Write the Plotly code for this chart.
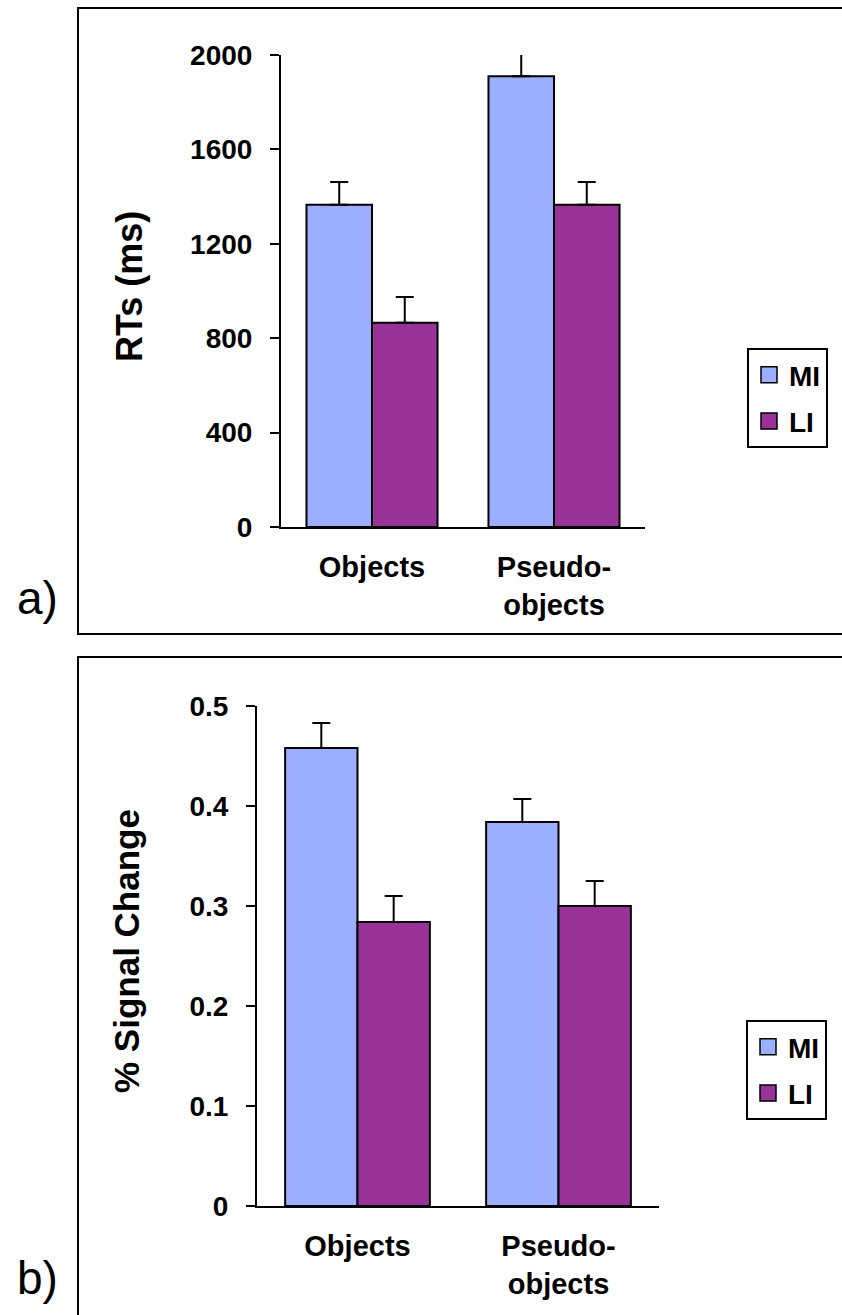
import plotly.graph_objects as go

W, H = 842, 1315

# ---- data ----
categories = ["Objects", "Pseudo-<br>objects"]
series_names = ["MI", "LI"]
rt_mi = [1365, 1910]
rt_mi_err = [97, 97]
rt_li = [865, 1365]
rt_li_err = [110, 97]
sig_mi = [0.458, 0.384]
sig_mi_err = [0.025, 0.023]
sig_li = [0.284, 0.300]
sig_li_err = [0.026, 0.025]
rt_ticks = [0, 400, 800, 1200, 1600, 2000]
sig_ticks = [0, 0.1, 0.2, 0.3, 0.4, 0.5]
sig_ticktext = ["0", "0.1", "0.2", "0.3", "0.4", "0.5"]

MI_COLOR = "#9BAEFF"
LI_COLOR = "#993399"
FONT = "Liberation Sans, Arial, sans-serif"


def px_x(p):
    return p / W


def px_y(p):
    return 1 - p / H


fig = go.Figure()

panels = [
    ("x", "y", "legend", rt_mi, rt_mi_err, rt_li, rt_li_err),
    ("x2", "y2", "legend2", sig_mi, sig_mi_err, sig_li, sig_li_err),
]
for xa, ya, lg, mi, mi_e, li, li_e in panels:
    for name, vals, errs, col in [("MI", mi, mi_e, MI_COLOR), ("LI", li, li_e, LI_COLOR)]:
        fig.add_trace(go.Bar(
            x=categories, y=vals, name=name, xaxis=xa, yaxis=ya,
            marker=dict(color=col, line=dict(color="black", width=2)),
            error_y=dict(type="data", array=errs, arrayminus=[0] * len(errs),
                         symmetric=False, color="black", thickness=2, width=9),
            cliponaxis=False,
            showlegend=False,
        ))
    for name, col in [("MI", MI_COLOR), ("LI", LI_COLOR)]:
        fig.add_trace(go.Scatter(
            x=[None], y=[None], mode="markers", name=name, xaxis=xa, yaxis=ya,
            legend=lg, legendgroup=lg + name,
            marker=dict(symbol="square", size=16, color=col,
                        line=dict(color="black", width=1.5)),
        ))

tickfont = dict(family=FONT, size=28, color="black", weight="bold")
xtickfont = dict(family=FONT, size=29, color="black", weight="bold")

common_y = dict(showline=True, linewidth=2, linecolor="black", ticks="outside",
                ticklen=9, tickwidth=2, tickcolor="black", showgrid=False,
                zeroline=False, tickfont=tickfont, ticklabelstandoff=12)
common_x = dict(showline=True, linewidth=2, linecolor="black", ticks="",
                showgrid=False, zeroline=False, tickfont=xtickfont,
                ticklabelstandoff=13, type="category")

legend_common = dict(xanchor="left", yanchor="top", bordercolor="black",
                     borderwidth=2, bgcolor="white", tracegroupgap=7,
                     font=dict(family=FONT, size=28, color="black", weight="bold"))

fig.update_layout(
    width=W, height=H,
    margin=dict(l=0, r=0, t=0, b=0, autoexpand=False),
    paper_bgcolor="white", plot_bgcolor="white",
    barmode="group", bargap=0.28, bargroupgap=0,
    font=dict(family=FONT, color="black"),
    xaxis=dict(domain=[px_x(281), px_x(645)], anchor="y", **common_x),
    yaxis=dict(domain=[px_y(527), px_y(55)], anchor="x", range=[0, 2000],
               tickvals=rt_ticks, **common_y),
    xaxis2=dict(domain=[px_x(257), px_x(659)], anchor="y2", **common_x),
    yaxis2=dict(domain=[px_y(1206), px_y(706)], anchor="x2", range=[0, 0.5],
                tickvals=sig_ticks, ticktext=sig_ticktext, **common_y),
    legend=dict(x=px_x(747), y=px_y(348), **legend_common),
    legend2=dict(x=px_x(746), y=px_y(1020), **legend_common),
    showlegend=True,
)

# panel frames
fig.add_shape(type="rect", xref="paper", yref="paper",
              x0=px_x(78), x1=1.05, y0=px_y(634), y1=px_y(8),
              line=dict(color="black", width=2))
fig.add_shape(type="rect", xref="paper", yref="paper",
              x0=px_x(78), x1=1.05, y0=-0.05, y1=px_y(657),
              line=dict(color="black", width=2))

# axis titles and panel letters
ann_common = dict(xref="paper", yref="paper", showarrow=False,
                  xanchor="center", yanchor="middle")
fig.add_annotation(text="<b>RTs (ms)</b>", x=px_x(129), y=px_y(287),
                   textangle=-90, font=dict(family=FONT, size=36, color="black"),
                   **ann_common)
fig.add_annotation(text="<b>% Signal Change</b>", x=px_x(126), y=px_y(951),
                   textangle=-90, font=dict(family=FONT, size=35, color="black"),
                   **ann_common)
fig.add_annotation(text="a)", x=px_x(37), y=px_y(598),
                   font=dict(family=FONT, size=46, color="black"), **ann_common)
fig.add_annotation(text="b)", x=px_x(37), y=px_y(1278),
                   font=dict(family=FONT, size=46, color="black"), **ann_common)

fig.write_html(
    "out.html",
    post_script=(
        "document.documentElement.style.margin='0';"
        "document.documentElement.style.padding='0';"
        "document.body.style.margin='0';"
        "document.body.style.padding='0';"
        "document.body.style.overflow='hidden';"
    ),
)
